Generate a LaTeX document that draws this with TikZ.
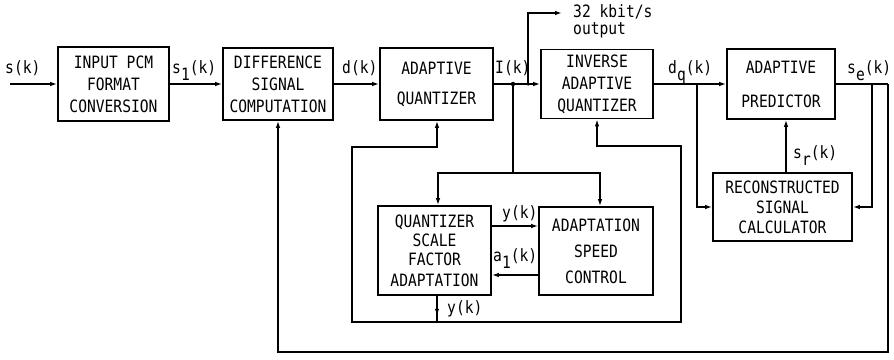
\documentclass[tikz,border=0pt]{standalone}
\usepackage{fontspec}
\newfontfamily\tw[FakeStretch=0.86]{DejaVu Sans Mono}
\usetikzlibrary{arrows.meta}
\newcommand\lo[1]{\raisebox{-0.42em}{#1}}
\begin{document}
\begin{tikzpicture}[x=1pt,y=-1pt,
  box/.style={draw, line width=1.6pt, inner sep=0pt, align=center,
    font=\tw\fontsize{17}{22}\selectfont},
  wire/.style={line width=1.6pt},
  arr/.style={wire, -{Latex[length=7pt,width=4.5pt]}},
  lbl/.style={font=\tw\fontsize{17}{19}\selectfont, inner sep=0pt, anchor=base west},
  dot/.style={circle, fill, inner sep=0pt, minimum size=4.5pt}]
\useasboundingbox (0,0) rectangle (894,359);

% blocks
\node[box, minimum width=111pt, minimum height=74pt] (b1) at (113.5,84) {INPUT PCM\\FORMAT\\CONVERSION};
\node[box, minimum width=110pt, minimum height=72pt] (b2) at (278,84) {DIFFERENCE\\SIGNAL\\COMPUTATION};
\node[box, minimum width=113pt, minimum height=72pt] (b3) at (436.5,84) {ADAPTIVE\\[8pt]QUANTIZER};
\node[box, minimum width=112pt, minimum height=69pt] (b4) at (597,84) {INVERSE\\ADAPTIVE\\QUANTIZER};
\node[box, minimum width=108pt, minimum height=70pt] (b5) at (781,84) {ADAPTIVE\\[12pt]PREDICTOR};
\node[box, minimum width=139pt, minimum height=68pt, font=\tw\fontsize{17}{20}\selectfont] (b6) at (782.5,207) {RECONSTRUCTED\\SIGNAL\\CALCULATOR};
\node[box, minimum width=113pt, minimum height=89pt, font=\tw\fontsize{17}{19}\selectfont] (b7) at (434.5,250.5) {QUANTIZER\\SCALE\\FACTOR\\[2pt]ADAPTATION};
\node[box, minimum width=114pt, minimum height=88pt, font=\tw\fontsize{17}{26}\selectfont] (b8) at (596,251) {ADAPTATION\\SPEED\\CONTROL};

% coordinates
\coordinate (in) at (10,84);
\coordinate (j1) at (513,84);
\coordinate (j2) at (528,84);
\coordinate (outp) at (562,13);
\coordinate (j3) at (697,84);
\coordinate (j4) at (872,84);
\coordinate (c5) at (888,84);
\coordinate (c6) at (888,352);
\coordinate (sr) at (786,0);
\coordinate (j5) at (513,173);
\coordinate (tl) at (438,173);
\coordinate (tr) at (600,173);
\coordinate (ya) at (0,226);
\coordinate (aa) at (0,275);
\coordinate (qx) at (437,0);
\coordinate (iqx) at (597,0);
\coordinate (fb) at (437,322);
\coordinate (fl) at (352,322);
\coordinate (flt) at (352,147);
\coordinate (fr) at (681,322);
\coordinate (frt) at (681,146);

% forward path
\draw[arr] (in) -- (b1.west);
\draw[arr] (b1.east) -- (b2.west);
\draw[arr] (b2.east) -- (b3.west);
\draw[arr] (b3.east) -- (b4.west);
\draw[arr] (j2) |- (outp);
\draw[arr] (b4.east) -- (b5.west);
\draw[wire] (b5.east) -- (c5);
\draw[arr] (c5) -- (c6) -| (b2.south);
\draw[arr] (j4) |- (b6.east);
\draw[arr] (j3) |- (b6.west);
\draw[arr] (b6.north -| sr) -- (b5.south -| sr);
\node[dot] at (j1) {};
\node[dot, minimum size=3.5pt] at (j2) {};

% adaptation part
\draw[wire] (j1) -- (j5);
\draw[arr] (j5) -- (tl) -- (b7.north -| tl);
\draw[arr] (j5) -- (tr) -- (b8.north -| tr);
\draw[arr] (b7.east |- ya) -- (b8.west |- ya);
\draw[arr] (b8.west |- aa) -- (b7.east |- aa);

% scale factor feedback
\draw[wire] (b7.south -| qx) -- (fb);
\draw[arr] (b7.south -| qx) -- ++(0,20);
\draw[arr] (fb) -- (fl) -- (flt) -- (flt -| qx) -- (b3.south -| qx);
\draw[arr] (fb) -- (fr) -- (frt) -- (frt -| iqx) -- (b4.south -| iqx);

% labels
\node[lbl] at (5,73) {s(k)};
\node[lbl] at (172,73) {s\lo{1}(k)};
\node[lbl] at (342,73) {d(k)};
\node[lbl] at (495,73) {I(k)};
\node[lbl] at (573,17) {32 kbit/s};
\node[lbl] at (573,34) {output};
\node[lbl] at (668,73) {d\lo{q}(k)};
\node[lbl] at (847,73) {s\lo{e}(k)};
\node[lbl] at (793,158) {s\lo{r}(k)};
\node[lbl] at (502,218) {y(k)};
\node[lbl] at (493,261) {a\lo{1}(k)};
\node[lbl] at (447,313) {y(k)};
\end{tikzpicture}
\end{document}
